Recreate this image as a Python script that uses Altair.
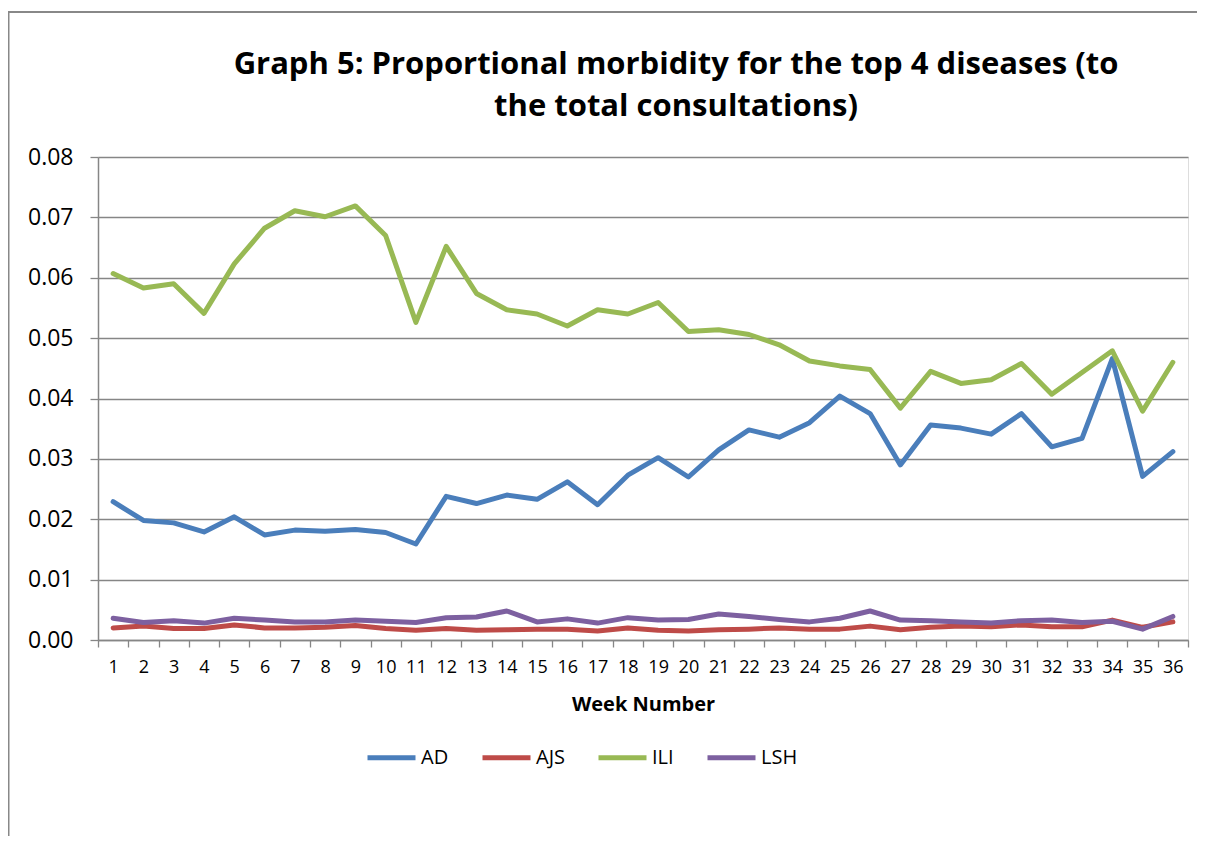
import altair as alt
import pandas as pd

weeks = list(range(1, 37))

ad = [0.0229, 0.0198, 0.0194, 0.0179, 0.0204, 0.0174, 0.0182, 0.0180, 0.0183, 0.0178,
      0.0159, 0.0238, 0.0226, 0.0240, 0.0233, 0.0262, 0.0224, 0.0273, 0.0302, 0.0270,
      0.0315, 0.0348, 0.0336, 0.0360, 0.0404, 0.0375, 0.0290, 0.0356, 0.0351, 0.0341,
      0.0375, 0.0320, 0.0334, 0.0466, 0.0271, 0.0312]

ajs = [0.0020, 0.0023, 0.0019, 0.0019, 0.0025, 0.0020, 0.0020, 0.0021, 0.0024, 0.0019,
       0.0016, 0.0019, 0.0016, 0.0017, 0.0018, 0.0018, 0.0015, 0.0020, 0.0016, 0.0015,
       0.0017, 0.0018, 0.0020, 0.0018, 0.0018, 0.0023, 0.0017, 0.0021, 0.0023, 0.0022,
       0.0025, 0.0022, 0.0022, 0.0033, 0.0021, 0.0030]

ili = [0.0607, 0.0583, 0.0590, 0.0541, 0.0623, 0.0682, 0.0711, 0.0701, 0.0719, 0.0670,
       0.0526, 0.0652, 0.0574, 0.0547, 0.0540, 0.0520, 0.0547, 0.0540, 0.0559, 0.0511,
       0.0514, 0.0506, 0.0489, 0.0462, 0.0454, 0.0448, 0.0384, 0.0445, 0.0425, 0.0431,
       0.0458, 0.0407, 0.0443, 0.0479, 0.0379, 0.0460]

lsh = [0.0036, 0.0029, 0.0032, 0.0028, 0.0036, 0.0033, 0.0030, 0.0030, 0.0033, 0.0031,
       0.0029, 0.0037, 0.0038, 0.0048, 0.0030, 0.0035, 0.0028, 0.0037, 0.0033, 0.0034,
       0.0043, 0.0039, 0.0034, 0.0030, 0.0036, 0.0048, 0.0033, 0.0032, 0.0030, 0.0028,
       0.0032, 0.0033, 0.0029, 0.0031, 0.0018, 0.0039]

series_names = ["AD", "AJS", "ILI", "LSH"]
series_colors = ["#4A7EBB", "#BE4B48", "#98B954", "#7D60A0"]
y_ticks = [0.0, 0.01, 0.02, 0.03, 0.04, 0.05, 0.06, 0.07, 0.08]
title_lines = ["Graph 5: Proportional morbidity for the top 4 diseases (to",
               "the total consultations)"]

rows = []
for name, vals in zip(series_names, [ad, ajs, ili, lsh]):
    for w, v in zip(weeks, vals):
        rows.append({"week": w, "disease": name, "value": v})
df = pd.DataFrame(rows)

GRID = "#868686"
FONT = "Open Sans"

lines = alt.Chart(df).mark_line(
    strokeWidth=5, strokeJoin="round", strokeCap="round"
).encode(
    x=alt.X(
        "week:O",
        bandPosition=0.5,
        scale=alt.Scale(type="band", paddingInner=0, paddingOuter=0),
        axis=alt.Axis(
            title="Week Number", labelAngle=0, tickBand="extent", grid=False,
            labelFontSize=18, labelFont=FONT, labelColor="#000000", labelPadding=11,
            tickSize=7, tickColor=GRID, tickWidth=1.3, domainColor=GRID, domainWidth=1.5,
            titleFont=FONT, titleFontSize=20, titleFontWeight="bold", titleColor="#000000",
            titlePadding=18,
        ),
    ),
    y=alt.Y(
        "value:Q",
        scale=alt.Scale(domain=[0, 0.08], nice=False),
        axis=alt.Axis(
            title=None, values=y_ticks, format=".2f",
            labelFontSize=23, labelFont=FONT, labelColor="#000000", labelPadding=17,
            tickSize=8, tickColor=GRID, tickWidth=1.3, domainColor=GRID, domainWidth=1.5,
            gridColor=GRID, gridWidth=1.5,
        ),
    ),
    color=alt.Color(
        "disease:N",
        scale=alt.Scale(domain=series_names, range=series_colors),
        legend=alt.Legend(
            title=None, orient="none", direction="horizontal",
            legendX=267, legendY=574, padding=0,
            symbolType="stroke", symbolSize=2304, symbolStrokeWidth=5,
            labelFont=FONT, labelFontSize=20, labelColor="#000000", labelOffset=3,
            columnPadding=23,
        ),
    ),
)

frame_df = pd.DataFrame({"k": [0]})
left_frame = alt.Chart(frame_df).mark_rule(color="#888888", strokeWidth=2).encode(
    x=alt.value(-89.5), y=alt.value(-145), y2=alt.value(700)
)
top_frame = alt.Chart(frame_df).mark_rule(color="#888888", strokeWidth=2).encode(
    x=alt.value(-90.5), x2=alt.value(1110), y=alt.value(-145)
)


def title_layer(text, y):
    return alt.Chart(pd.DataFrame({"t": [text]})).mark_text(
        font=FONT, fontSize=31, fontWeight="bold", color="#000000",
        align="center", baseline="middle",
    ).encode(text="t:N", x=alt.value(578), y=alt.value(y))


title1 = title_layer(title_lines[0], -92)
title2 = title_layer(title_lines[1], -50)

chart = alt.layer(left_frame, top_frame, title1, title2, lines).properties(
    width=1090,
    height=483,
    autosize=alt.AutoSizeParams(type="none"),
    padding={"left": 90, "top": 149, "right": 9, "bottom": 196},
).configure_view(stroke=None).configure(background="white")

chart.save("out.html", embed_options={"renderer": "svg", "actions": False})
